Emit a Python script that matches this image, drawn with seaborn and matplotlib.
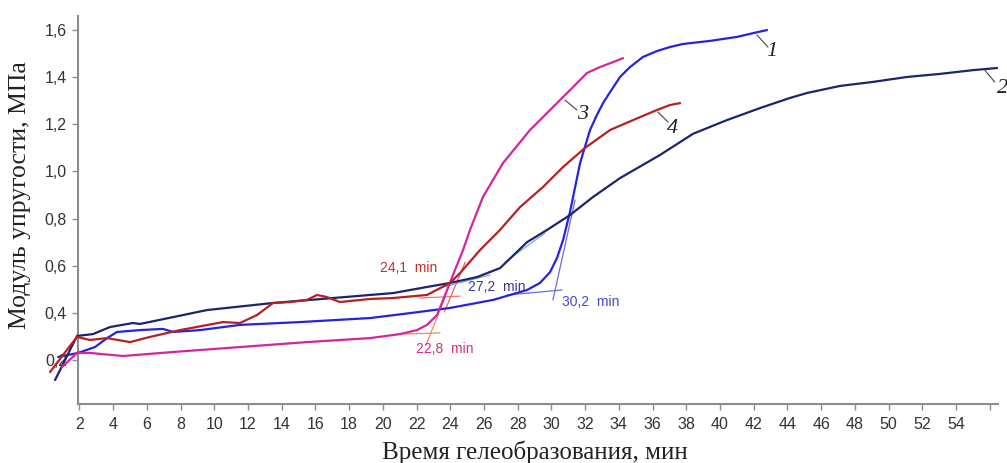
import numpy as np
import pandas as pd
import matplotlib
matplotlib.use("Agg")
import matplotlib.pyplot as plt
import seaborn as sns

# ---------------- data ----------------
c1_x = [0.74, 1.92, 2.93, 3.64, 4.24, 5.60, 6.96, 7.56, 9.16, 11.53, 15.09, 19.24, 21.61,
        23.99, 26.54, 28.55, 29.32, 29.92, 30.33, 30.69, 31.10, 31.70, 32.29, 32.70, 33.06,
        33.48, 34.07, 34.66, 35.43, 36.26, 37.03, 37.80, 39.41, 41.01, 41.96, 42.79]
c1_y = [0.213, 0.230, 0.255, 0.293, 0.319, 0.327, 0.332, 0.319, 0.327, 0.349, 0.361, 0.378,
        0.399, 0.421, 0.455, 0.497, 0.527, 0.573, 0.633, 0.709, 0.828, 1.036, 1.176, 1.240,
        1.290, 1.337, 1.401, 1.443, 1.486, 1.511, 1.528, 1.541, 1.554, 1.571, 1.587, 1.600]

c2_x = [0.56, 1.15, 1.86, 2.81, 3.82, 5.18, 5.60, 7.56, 9.57, 13.49, 19.24, 20.61, 22.62,
        23.99, 25.59, 26.95, 27.54, 28.55, 29.74, 31.10, 32.47, 34.07, 36.44, 38.40, 40.41,
        42.37, 44.15, 45.16, 47.12, 49.07, 51.09, 53.05, 55.01, 56.43]
c2_y = [0.115, 0.200, 0.302, 0.310, 0.340, 0.357, 0.353, 0.382, 0.412, 0.442, 0.476, 0.484,
        0.510, 0.527, 0.552, 0.590, 0.630, 0.700, 0.752, 0.815, 0.892, 0.972, 1.070, 1.160,
        1.218, 1.269, 1.312, 1.333, 1.363, 1.380, 1.401, 1.414, 1.430, 1.439]

c3_x = [0.97, 1.86, 2.63, 4.59, 7.56, 11.53, 15.50, 19.24, 21.02, 22.03, 22.62, 23.22, 23.81,
        24.28, 24.76, 25.17, 25.94, 27.13, 28.73, 30.51, 31.28, 32.11, 32.88, 33.65, 34.25]
c3_y = [0.170, 0.230, 0.230, 0.217, 0.234, 0.255, 0.276, 0.293, 0.310, 0.327, 0.349, 0.391,
        0.497, 0.582, 0.667, 0.752, 0.892, 1.036, 1.176, 1.303, 1.358, 1.418, 1.443, 1.464, 1.481]

c4_x = [0.26, 1.03, 1.86, 2.63, 3.64, 5.01, 6.19, 7.97, 10.52, 11.53, 12.54, 13.49, 14.50,
        15.50, 16.10, 16.69, 17.46, 19.24, 20.61, 22.62, 23.99, 24.58, 25.77, 26.95, 28.14,
        29.50, 30.69, 31.99, 33.48, 34.84, 36.26, 37.03, 37.63]
c4_y = [0.149, 0.221, 0.298, 0.285, 0.293, 0.276, 0.298, 0.327, 0.361, 0.357, 0.391, 0.442,
        0.446, 0.455, 0.476, 0.467, 0.446, 0.459, 0.463, 0.476, 0.527, 0.569, 0.667, 0.752,
        0.849, 0.934, 1.019, 1.100, 1.176, 1.218, 1.261, 1.282, 1.290]

curve_names = ["1", "2", "3", "4"]
curve_colors = ["#2424e0", "#1c2470", "#d424a0", "#b82020"]

# gel-point labels and tangent construction lines
gel_labels = ["24,1  min", "27,2  min", "30,2  min", "22,8  min"]
gel_label_x = [21.55, 26.77, 32.35, 23.69]
gel_label_y = [0.590, 0.510, 0.446, 0.247]
gel_label_colors = ["#c0302a", "#3c3c8c", "#4646d8", "#d0307e"]

tangent_x = [[21.31, 23.39], [22.56, 23.75],      # curve 3 (orange)
             [22.20, 24.58], [23.65, 24.89],      # curve 4
             [23.39, 26.36], [27.25, 29.62],      # curve 2
             [27.37, 30.63], [30.09, 31.40]]      # curve 1
tangent_y = [[0.310, 0.315], [0.264, 0.476],
             [0.463, 0.471], [0.404, 0.616],
             [0.506, 0.561], [0.616, 0.739],
             [0.476, 0.497], [0.455, 0.879]]
tangent_colors = ["#f08a5a", "#f08a5a", "#ee7a6a", "#e06a5a",
                  "#7fa6e8", "#7fa6e8", "#6a6ae6", "#6a6ae6"]

# curve number labels with leader lines
num_text_x = [43.08, 56.78, 31.87, 37.21]
num_text_y = [1.507, 1.354, 1.240, 1.184]
leader_x = [[42.19, 42.84], [55.70, 56.29], [30.80, 31.51], [36.32, 36.91]]
leader_y = [[1.579, 1.528], [1.430, 1.380], [1.303, 1.261], [1.252, 1.210]]

x_ticks = list(range(2, 57, 2))
x_tick_labels = [str(t) for t in x_ticks[:-1]] + [""]
y_ticks = [0.2, 0.4, 0.6, 0.8, 1.0, 1.2, 1.4, 1.6]
y_tick_labels = ["0,2", "0,4", "0,6", "0,8", "1,0", "1,2", "1,4", "1,6"]

# ---------------- figure ----------------
sns.set_theme(style="white")
plt.rcParams["font.family"] = ["Liberation Sans", "DejaVu Sans"]

df = pd.concat([
    pd.DataFrame({"t": c1_x, "E": c1_y, "curve": "1"}),
    pd.DataFrame({"t": c2_x, "E": c2_y, "curve": "2"}),
    pd.DataFrame({"t": c3_x, "E": c3_y, "curve": "3"}),
    pd.DataFrame({"t": c4_x, "E": c4_y, "curve": "4"}),
], ignore_index=True)

fig = plt.figure(figsize=(10.07, 4.63), dpi=100)
ax = fig.add_axes([0.0453, 0.1274, 0.946, 0.8382])

sns.lineplot(data=df, x="t", y="E", hue="curve", hue_order=curve_names,
             palette=dict(zip(curve_names, curve_colors)), sort=False,
             estimator=None, linewidth=1.6, legend=False, ax=ax, zorder=3)
for line in ax.get_lines():
    line.set_solid_joinstyle("round")
    line.set_solid_capstyle("round")

for tx, ty, tc in zip(tangent_x, tangent_y, tangent_colors):
    ax.plot(tx, ty, color=tc, linewidth=0.9, zorder=2.8)

for s, x, y, c in zip(gel_labels, gel_label_x, gel_label_y, gel_label_colors):
    ax.text(x, y, s, color=c, fontsize=10, ha="center", va="center", zorder=4)

for s, x, y, lx, ly in zip(curve_names, num_text_x, num_text_y, leader_x, leader_y):
    ax.plot(lx, ly, color="#555555", linewidth=0.9, zorder=4)
    ax.text(x, y, s, fontsize=16, fontstyle="italic", family="Liberation Serif",
            color="#222222", ha="center", va="center", clip_on=False)

ax.set_xlim(0.0, 56.5)
ax.set_ylim(0.0133, 1.66)

for side in ["top", "right"]:
    ax.spines[side].set_visible(False)
ax.spines["left"].set_position(("data", 1.92))
ax.spines["bottom"].set_bounds(1.92, 56.5)
for side in ["left", "bottom"]:
    ax.spines[side].set_color("#8c8c8c")
    ax.spines[side].set_linewidth(1.5)

ax.set_xticks(x_ticks)
ax.set_xticklabels(x_tick_labels)
ax.set_yticks(y_ticks)
ax.set_yticklabels(y_tick_labels)
ax.tick_params(axis="both", which="major", length=4, width=1.0, color="#8c8c8c",
               labelsize=11.5, labelcolor="#333333", direction="out")
ax.tick_params(axis="x", pad=5)
ax.tick_params(axis="y", pad=4)
ax.tick_params(bottom=True, left=True)

ax.set_xlabel("Время гелеобразования, мин", family="Liberation Serif",
              fontsize=18, color="#222222")
ax.set_ylabel("Модуль упругости, МПа", family="Liberation Serif",
              fontsize=18.5, color="#222222")
ax.xaxis.label.set_va("center")
ax.yaxis.label.set_va("center")
ax.xaxis.set_label_coords(0.5138, -0.1237)
ax.yaxis.set_label_coords(-0.0269, 0.5385)

fig.savefig("out.png", dpi=100)
